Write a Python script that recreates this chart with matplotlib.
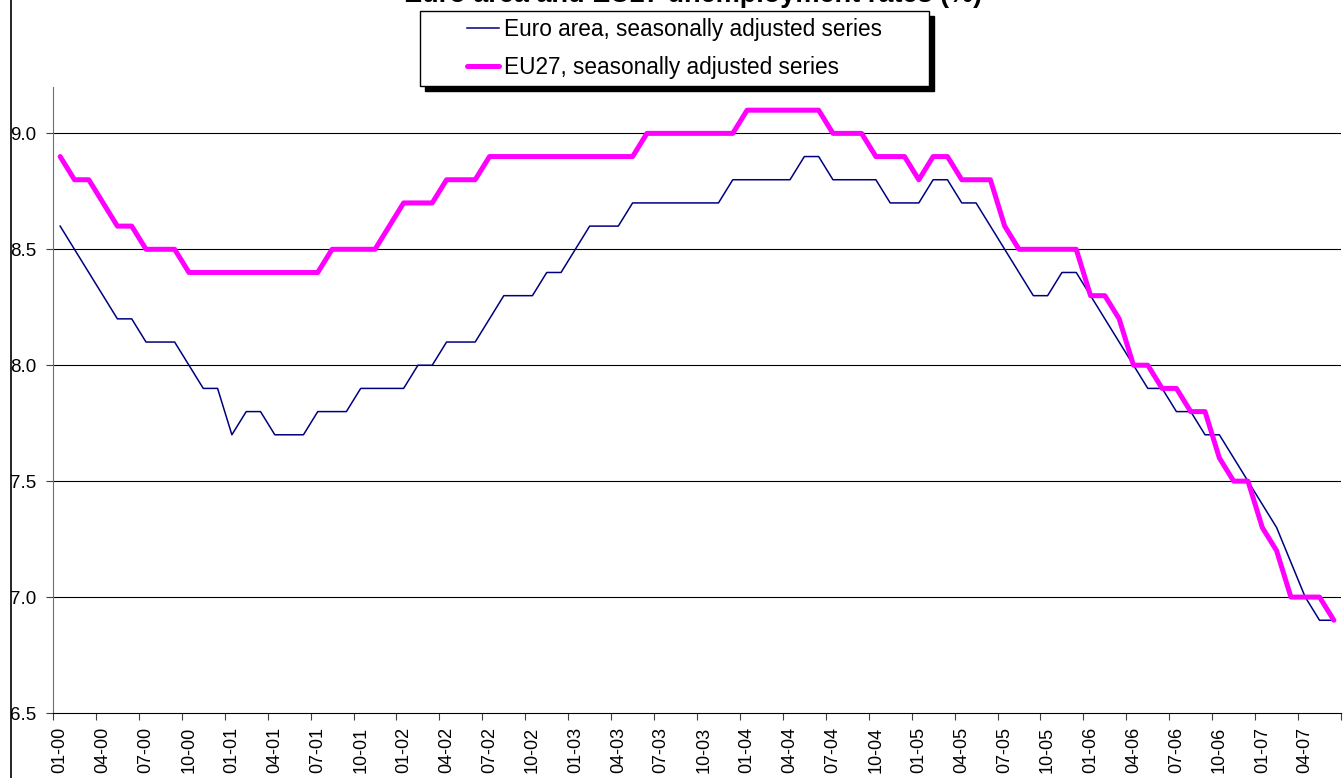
import numpy as np
import matplotlib
matplotlib.use("Agg")
import matplotlib.pyplot as plt
from matplotlib.lines import Line2D
from matplotlib.patches import Rectangle

plt.rcParams['font.family'] = ['Liberation Sans', 'DejaVu Sans']

# monthly, 01-2000 .. 06-2007
euro_area = [8.6, 8.5, 8.4, 8.3, 8.2, 8.2, 8.1, 8.1, 8.1, 8.0, 7.9, 7.9,
             7.7, 7.8, 7.8, 7.7, 7.7, 7.7, 7.8, 7.8, 7.8, 7.9, 7.9, 7.9,
             7.9, 8.0, 8.0, 8.1, 8.1, 8.1, 8.2, 8.3, 8.3, 8.3, 8.4, 8.4,
             8.5, 8.6, 8.6, 8.6, 8.7, 8.7, 8.7, 8.7, 8.7, 8.7, 8.7, 8.8,
             8.8, 8.8, 8.8, 8.8, 8.9, 8.9, 8.8, 8.8, 8.8, 8.8, 8.7, 8.7,
             8.7, 8.8, 8.8, 8.7, 8.7, 8.6, 8.5, 8.4, 8.3, 8.3, 8.4, 8.4,
             8.3, 8.2, 8.1, 8.0, 7.9, 7.9, 7.8, 7.8, 7.7, 7.7, 7.6, 7.5,
             7.4, 7.3, 7.15, 7.0, 6.9, 6.9]
eu27 = [8.9, 8.8, 8.8, 8.7, 8.6, 8.6, 8.5, 8.5, 8.5, 8.4, 8.4, 8.4,
        8.4, 8.4, 8.4, 8.4, 8.4, 8.4, 8.4, 8.5, 8.5, 8.5, 8.5, 8.6,
        8.7, 8.7, 8.7, 8.8, 8.8, 8.8, 8.9, 8.9, 8.9, 8.9, 8.9, 8.9,
        8.9, 8.9, 8.9, 8.9, 8.9, 9.0, 9.0, 9.0, 9.0, 9.0, 9.0, 9.0,
        9.1, 9.1, 9.1, 9.1, 9.1, 9.1, 9.0, 9.0, 9.0, 8.9, 8.9, 8.9,
        8.8, 8.9, 8.9, 8.8, 8.8, 8.8, 8.6, 8.5, 8.5, 8.5, 8.5, 8.5,
        8.3, 8.3, 8.2, 8.0, 8.0, 7.9, 7.9, 7.8, 7.8, 7.6, 7.5, 7.5,
        7.3, 7.2, 7.0, 7.0, 7.0, 6.9]
tick_labels = [f"{m:02d}-{y:02d}" for y in range(0, 8) for m in (1, 4, 7, 10)][:30]
yticks = [6.5, 7.0, 7.5, 8.0, 8.5, 9.0]

W, H = 1343, 778
x = np.arange(len(eu27))

fig = plt.figure(figsize=(W / 100, H / 100), dpi=100)
ax = fig.add_axes([53 / W, 1 - 713 / H, 1288 / W, (713 - 87) / H])

l1, = ax.plot(x, euro_area, color='#000080', lw=1.1)
l2, = ax.plot(x, eu27, color='#FF00FF', lw=3.6, solid_joinstyle='round', solid_capstyle='round')

ax.set_xlim(-0.5, len(x) - 0.5)
ax.set_ylim(6.5, 9.2)
ax.set_yticks(yticks)
ax.set_yticklabels([f"{v:.1f}" for v in yticks], fontsize=13.5)
for v in yticks[1:]:
    ax.axhline(v, color='black', lw=0.8, zorder=0)

# tick marks between categories, labels under categories
ax.set_xticks(np.arange(-0.5, len(x), 3))
ax.set_xticklabels([])
ax.set_xticks(np.arange(0, len(x), 3), minor=True)
ax.set_xticklabels(tick_labels, minor=True, rotation=90, fontsize=13)
ax.tick_params(axis='x', which='major', length=5, direction='out', color='#404040')
ax.tick_params(axis='x', which='minor', length=0, pad=10)
ax.tick_params(axis='y', length=5, direction='out', color='#404040', pad=7)

ax.spines['top'].set_visible(False)
ax.spines['right'].set_visible(False)
ax.spines['left'].set_color('#707070')
ax.spines['bottom'].set_color('black')

fig.add_artist(Line2D([11 / W, 11 / W], [0, 1], color='black', lw=1.2,
                      transform=fig.transFigure))

fig.text(693 / W, 1 - 2.5 / H, 'Euro area and EU27 unemployment rates (%)',
         ha='center', va='baseline', fontsize=19.5, fontweight='bold')

# legend box with black shadow
bx0, by0, bx1, by1 = 420, 11, 929, 86
fig.add_artist(Rectangle(((bx0 + 5) / W, 1 - (by1 + 5) / H), (bx1 - bx0) / W, (by1 - by0) / H,
                         transform=fig.transFigure, facecolor='black', edgecolor='black', zorder=1))
fig.add_artist(Rectangle((bx0 / W, 1 - by1 / H), (bx1 - bx0) / W, (by1 - by0) / H,
                         transform=fig.transFigure, facecolor='white', edgecolor='black',
                         lw=1.0, zorder=2))
fig.legend([l1, l2], ['Euro area, seasonally adjusted series', 'EU27, seasonally adjusted series'],
           loc='center', bbox_to_anchor=((bx0 + bx1) / 2 / W, 1 - (by0 + by1) / 2 / H),
           bbox_transform=fig.transFigure, frameon=False, fontsize=16.3,
           handlelength=1.4, handletextpad=0.2, labelspacing=0.65, borderpad=0)

fig.savefig('out.png', dpi=100)
